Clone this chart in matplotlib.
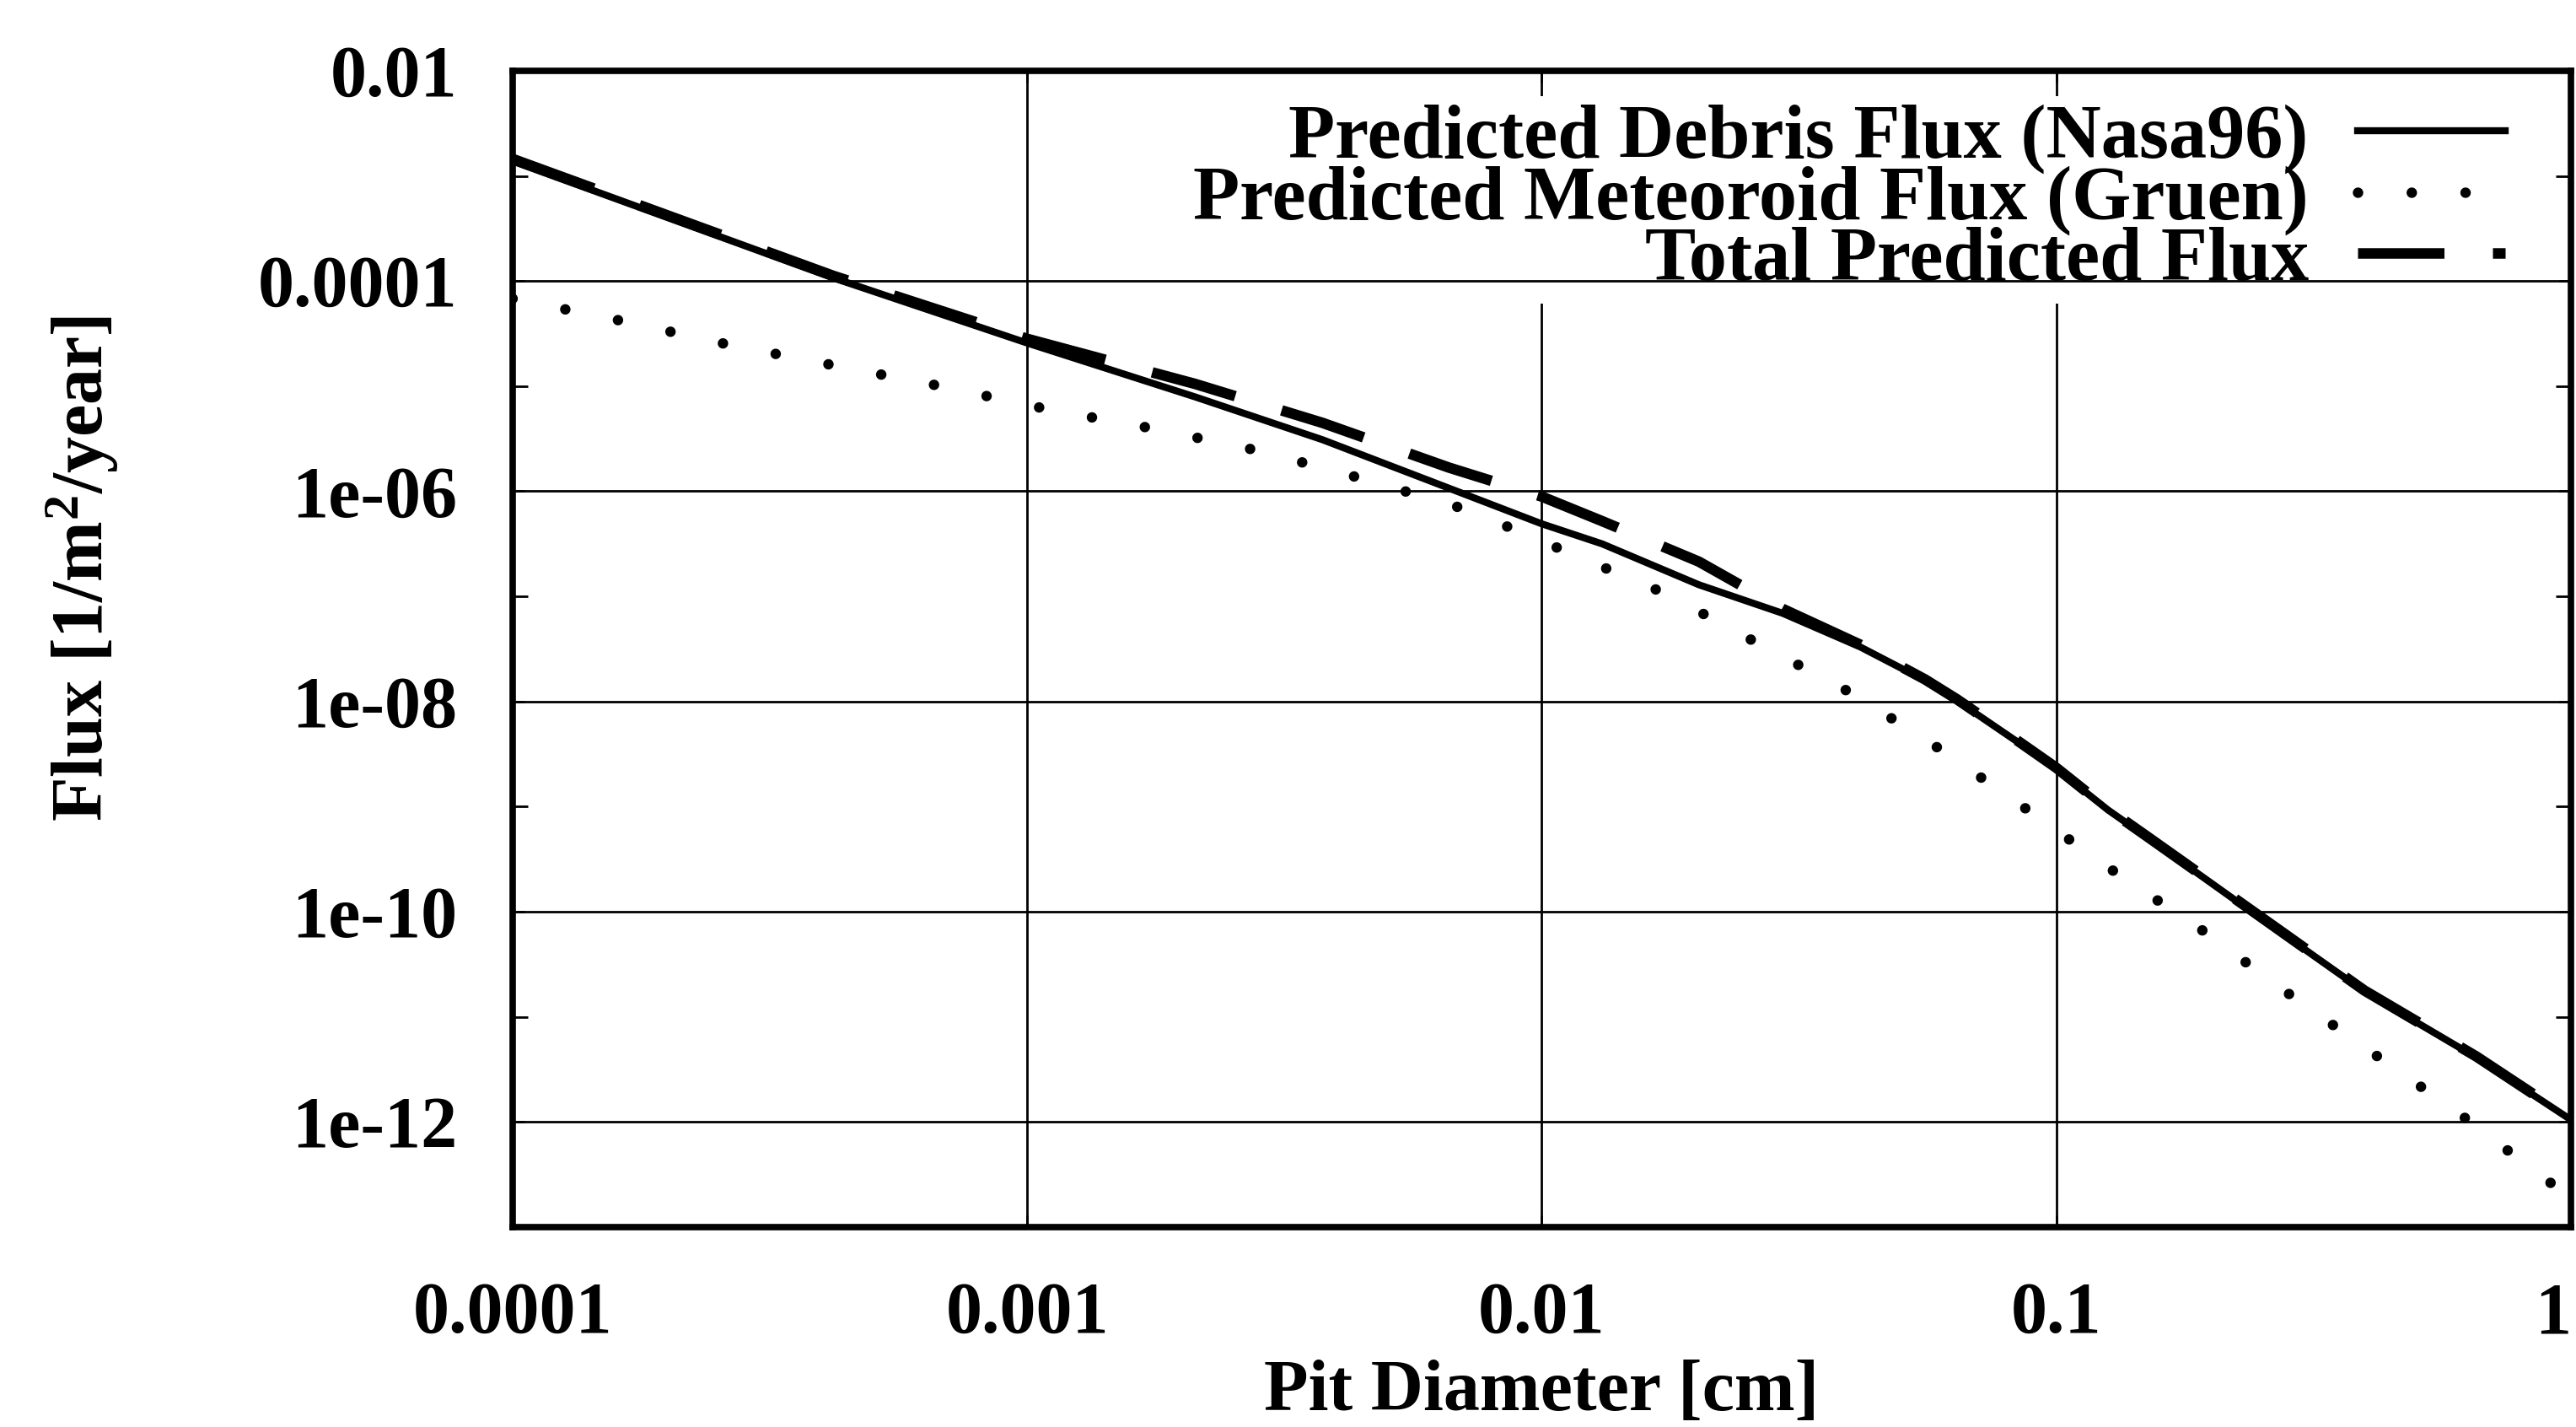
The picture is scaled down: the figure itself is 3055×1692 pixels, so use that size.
import matplotlib
matplotlib.use("Agg")
from matplotlib import pyplot as plt
from matplotlib.ticker import FixedLocator, NullLocator, NullFormatter

# pit diameter [cm] / flux [1/m^2/year]
diameter = [1.0e-4, 4.2e-4, 1.0e-3, 2.12e-3, 3.75e-3, 6.6e-3, 1.0e-2, 1.31e-2, 2.02e-2,
            2.94e-2, 4.16e-2, 5.56e-2, 6.41e-2, 8.55e-2, 0.1, 0.126, 0.151, 0.243,
            0.397, 0.655, 1.0]
debrisFlux = [1.38e-3, 1.07e-4, 2.57e-5, 7.9e-6, 3.09e-6, 1.07e-6, 4.9e-7, 3.16e-7, 1.29e-7,
              6.9e-8, 3.3e-8, 1.58e-8, 1.02e-8, 3.9e-9, 2.29e-9, 9.3e-10, 5.0e-10, 9.5e-11,
              1.74e-11, 4.1e-12, 1.05e-12]
totalFlux = [1.45e-3, 1.12e-4, 2.82e-5, 1.05e-5, 4.47e-6, 1.68e-6, 8.9e-7, 5.2e-7, 2.14e-7,
             7.6e-8, 3.47e-8, 1.62e-8, 1.05e-8, 4.0e-9, 2.34e-9, 9.5e-10, 5.1e-10, 9.8e-11,
             1.78e-11, 4.2e-12, 1.07e-12]

meteoroidDiameter = [1.0e-4, 1.62e-4, 2.61e-4, 4.2e-4, 6.79e-4, 1.10e-3, 1.78e-3, 2.85e-3,
                     4.55e-3, 7.21e-3, 1.11e-2, 1.75e-2, 2.65e-2, 4.04e-2, 6.01e-2, 8.91e-2,
                     0.129, 0.191, 0.279, 0.410, 0.603, 0.881, 1.0]
meteoroidFlux = [6.8e-5, 4.2e-5, 2.5e-5, 1.58e-5, 1.0e-5, 6.0e-6, 3.9e-6, 2.4e-6,
                 1.29e-6, 6.6e-7, 2.7e-7, 1.05e-7, 3.5e-8, 1.17e-8, 3.4e-9, 8.9e-10,
                 2.45e-10, 6.8e-11, 1.74e-11, 4.6e-12, 1.23e-12, 3.0e-13, 1.9e-13]

seriesLabels = ["Predicted Debris Flux (Nasa96)",
                "Predicted Meteoroid Flux (Gruen)",
                "Total Predicted Flux"]

xTicks = [1e-4, 1e-3, 1e-2, 1e-1, 1]
xTickLabels = ["0.0001", "0.001", "0.01", "0.1", "1"]
yTicks = [1e-2, 1e-4, 1e-6, 1e-8, 1e-10, 1e-12]
yTickLabels = ["0.01", "0.0001", "1e-06", "1e-08", "1e-10", "1e-12"]
yMinorTicks = [1e-3, 1e-5, 1e-7, 1e-9, 1e-11]


def fluxPlot():
    plt.rcParams["font.family"] = "Liberation Serif"
    plt.rcParams["font.weight"] = "bold"
    plt.rcParams["axes.labelweight"] = "bold"
    plt.rcParams["font.size"] = 62
    plt.rcParams["mathtext.fontset"] = "custom"
    plt.rcParams["mathtext.rm"] = "Liberation Serif:bold"
    plt.rcParams["mathtext.it"] = "Liberation Serif:bold"
    plt.rcParams["mathtext.bf"] = "Liberation Serif:bold"

    fig = plt.figure(figsize=(30.55, 16.92), dpi=100)
    ax = fig.add_axes([0.199, 0.1401, 0.799, 0.8103])

    ax.plot(diameter, debrisFlux, color="black", lw=6, label=seriesLabels[0])
    ax.plot(meteoroidDiameter, meteoroidFlux, color="black", lw=9,
            linestyle=(0, (0.001, 5.1)), dash_capstyle="round", label=seriesLabels[1])
    ax.plot(diameter, totalFlux, color="black", lw=9,
            linestyle=(0, (8.2, 4.6)), label=seriesLabels[2])

    ax.set_xscale("log")
    ax.set_yscale("log")
    ax.set_xlim(1e-4, 1)
    ax.set_ylim(1e-13, 1e-2)

    ax.set_xticks(xTicks, xTickLabels)
    ax.set_yticks(yTicks, yTickLabels)
    ax.get_xticklabels()[-1].set_horizontalalignment("right")
    ax.xaxis.set_minor_locator(NullLocator())
    ax.yaxis.set_minor_locator(FixedLocator(yMinorTicks))
    ax.yaxis.set_minor_formatter(NullFormatter())

    ax.tick_params(which="major", direction="in", length=10, width=2, pad=47,
                   top=True, right=True)
    ax.tick_params(which="minor", direction="in", length=13, width=2,
                   left=True, right=True)
    ax.grid(True, which="major", color="black", lw=2)
    # keep the horizontal grid lines above the key's white box
    ax.yaxis.set_zorder(6)
    for s in ax.spines.values():
        s.set_linewidth(5.5)

    ax.set_xlabel("Pit Diameter [cm]", labelpad=9)
    ax.set_ylabel(r"Flux [1/m$^{2}$/year]")
    ax.yaxis.set_label_coords(-0.1905, 0.5697)

    ax.legend(loc="upper right", bbox_to_anchor=(0.9717, 0.978), markerfirst=False,
              frameon=True, fancybox=False, framealpha=1, facecolor="white",
              edgecolor="none", fontsize=65, handlelength=1.94, handletextpad=0.64,
              labelspacing=-0.11, borderpad=0.1, borderaxespad=0)

    fig.savefig("out.png", dpi=100, facecolor="white")


if __name__ == "__main__":
    fluxPlot()
